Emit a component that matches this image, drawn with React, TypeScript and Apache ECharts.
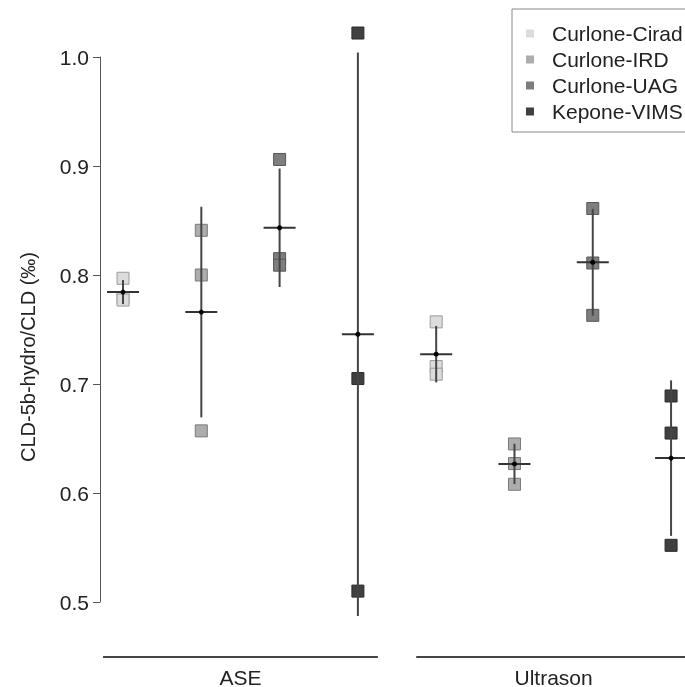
import React, { useEffect, useRef } from "react";
import * as echarts from "echarts";

const labs = ["Curlone-Cirad", "Curlone-IRD", "Curlone-UAG", "Kepone-VIMS"];
const methods = ["ASE", "Ultrason"];
const labFill = ["#dcdcdc", "#adadad", "#7e7e7e", "#404040"];
const labBorder = ["#9c9c9c", "#7a7a7a", "#585858", "#2a2a2a"];
const yTicks = [0.5, 0.6, 0.7, 0.8, 0.9, 1.0];
const yTitle = "CLD-5b-hydro/CLD (‰)";

// replicate values (three per lab and method)
const ciradASE = [0.797, 0.779, 0.777];
const ciradUltrason = [0.757, 0.716, 0.709];
const irdASE = [0.841, 0.8, 0.657];
const irdUltrason = [0.645, 0.627, 0.608];
const uagASE = [0.906, 0.815, 0.809];
const uagUltrason = [0.861, 0.811, 0.763];
const vimsASE = [1.022, 0.705, 0.51];
const vimsUltrason = [0.689, 0.655, 0.552];

const replicates = [
  [ciradASE, ciradUltrason],
  [irdASE, irdUltrason],
  [uagASE, uagUltrason],
  [vimsASE, vimsUltrason],
];

const FONT = "Liberation Sans, Arial, Helvetica, sans-serif";

function mean(a: number[]) {
  return a.reduce((s, v) => s + v, 0) / a.length;
}
function sd(a: number[]) {
  const m = mean(a);
  return Math.sqrt(a.reduce((s, v) => s + (v - m) * (v - m), 0) / (a.length - 1));
}
function xPos(mi: number, li: number) {
  return mi * labs.length + li + 1;
}

export default function App() {
  const ref = useRef<HTMLDivElement>(null);
  useEffect(() => {
    if (!ref.current) return;
    const chart = echarts.init(ref.current, null, { renderer: "svg" });

    const scatterSeries = labs.map((lab, li) => ({
      name: lab,
      type: "scatter",
      symbol: "rect",
      symbolSize: 12,
      clip: false,
      z: 2,
      itemStyle: { color: labFill[li], borderColor: labBorder[li], borderWidth: 1, opacity: 1 },
      data: methods.flatMap((m, mi) => replicates[li][mi].map((v) => [xPos(mi, li), v])),
    }));

    const errSeries = labs.map((lab, li) => ({
      name: lab + " mean±sd",
      type: "custom",
      z: 3,
      data: methods.map((m, mi) => [xPos(mi, li), mean(replicates[li][mi]), sd(replicates[li][mi])]),
      renderItem: (params: any, api: any) => {
        const x = api.value(0);
        const m = api.value(1);
        const s = api.value(2);
        const top = api.coord([x, m + s]);
        const bot = api.coord([x, m - s]);
        const c = api.coord([x, m]);
        return {
          type: "group",
          children: [
            { type: "line", shape: { x1: top[0], y1: top[1], x2: bot[0], y2: bot[1] }, style: { stroke: "#454545", lineWidth: 2 } },
            { type: "line", shape: { x1: c[0] - 16, y1: c[1], x2: c[0] + 16, y2: c[1] }, style: { stroke: "#333", lineWidth: 2 } },
            { type: "circle", shape: { cx: c[0], cy: c[1], r: 2.5 }, style: { fill: "#000" } },
          ],
        };
      },
    }));

    chart.setOption({
      animation: false,
      textStyle: { fontFamily: FONT },
      grid: { left: 100, right: 0, top: 57, bottom: 85 },
      xAxis: { type: "value", min: 0.706, max: 8.178, show: false },
      yAxis: {
        type: "value",
        min: yTicks[0],
        max: yTicks[yTicks.length - 1],
        interval: 0.1,
        axisLine: { show: true, lineStyle: { color: "#555", width: 1 } },
        axisTick: { show: true, length: 7, lineStyle: { color: "#555" } },
        axisLabel: { fontSize: 21, color: "#222", margin: 11, fontFamily: FONT, formatter: (v: number) => v.toFixed(1) },
        splitLine: { show: false },
      },
      legend: {
        data: labs.map((l, li) => ({ name: l, icon: "rect", itemStyle: { color: labFill[li], borderWidth: 0 } })),
        orient: "vertical",
        left: 512,
        top: 9,
        padding: [14, 60, 10, 14],
        itemWidth: 8,
        itemHeight: 8,
        itemGap: 5,
        borderColor: "#888",
        borderWidth: 1,
        selectedMode: false,
        itemStyle: { borderWidth: 0 },
        textStyle: { fontSize: 21, color: "#222", fontFamily: FONT, padding: [0, 0, 0, 13] },
      },
      series: [...scatterSeries, ...errSeries],
    });

    const graphics: any[] = [];
    methods.forEach((m, mi) => {
      const center = mi * labs.length + (labs.length + 1) / 2;
      const p1 = chart.convertToPixel({ gridIndex: 0 }, [center - 1.755, yTicks[0]]) as number[];
      const p2 = chart.convertToPixel({ gridIndex: 0 }, [center + 1.755, yTicks[0]]) as number[];
      const pc = chart.convertToPixel({ gridIndex: 0 }, [center, yTicks[0]]) as number[];
      graphics.push({
        type: "line",
        shape: { x1: p1[0], y1: 657, x2: p2[0], y2: 657 },
        style: { stroke: "#444", lineWidth: 2 },
      });
      graphics.push({
        type: "text",
        x: pc[0],
        y: 677,
        style: { text: m, fontSize: 21, fill: "#222", font: `21px ${FONT}`, textAlign: "center", textVerticalAlign: "middle" },
      });
    });
    graphics.push({
      type: "text",
      x: 28,
      y: 357,
      rotation: Math.PI / 2,
      style: { text: yTitle, font: `20px ${FONT}`, fill: "#222", textAlign: "center", textVerticalAlign: "middle" },
    });
    chart.setOption({ graphic: graphics });

    return () => chart.dispose();
  }, []);

  return <div ref={ref} style={{ position: "fixed", left: 0, top: 0, width: 685, height: 687 }} />;
}
